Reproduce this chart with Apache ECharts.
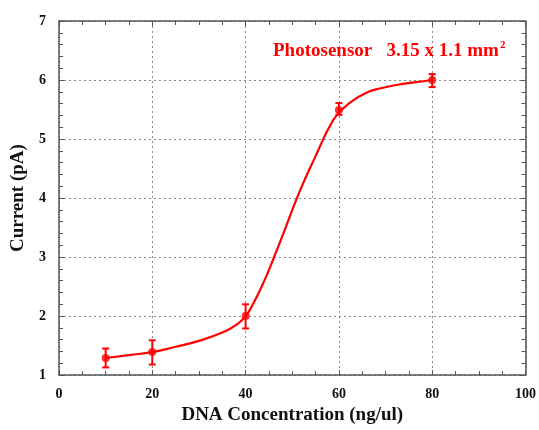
<!DOCTYPE html>
<html>
<head>
<meta charset="utf-8">
<script src="https://cdn.jsdelivr.net/npm/echarts@6/dist/echarts.min.js"></script>
<style>html,body{margin:0;padding:0;background:#fff}#c{width:539px;height:430px}</style>
</head>
<body>
<div id="c"></div>
<script>
// Measured points
var concentration = [10, 20, 40, 60, 80];
var current = [1.29, 1.39, 2.0, 5.49, 6.0];
var errLow = [1.13, 1.18, 1.79, 5.41, 5.88];
var errHigh = [1.45, 1.59, 2.2, 5.61, 6.1];
// Fitted curve
var curveX = [10, 15, 20, 25, 30, 35, 38, 40, 41.7, 43.5, 45.1, 46, 47.9, 49.1, 51, 53, 55, 56.6, 57.8, 59.6, 62.6, 66, 69, 72.6, 76.1, 80];
var curveY = [1.29, 1.34, 1.39, 1.48, 1.58, 1.72, 1.85, 2.0, 2.22, 2.51, 2.80, 2.98, 3.36, 3.61, 4.0, 4.37, 4.71, 4.99, 5.18, 5.41, 5.63, 5.79, 5.86, 5.92, 5.96, 6.0];
var xTicks = [0, 20, 40, 60, 80, 100];
var yTicks = [1, 2, 3, 4, 5, 6, 7];

var RED = '#ff0000';
var FONT = '"Liberation Serif", "Times New Roman", serif';
var AX = '#555';

var pts = concentration.map(function (x, i) { return [x, current[i]]; });
var errs = concentration.map(function (x, i) { return [x, errLow[i], errHigh[i]]; });
var curve = curveX.map(function (x, i) { return [x, curveY[i]]; });

var chart = echarts.init(document.getElementById('c'));
var baseAxis = {
  axisLine: { show: true, onZero: false, lineStyle: { color: AX, width: 1.5 } },
  axisTick: { show: true, inside: true, length: 5, lineStyle: { color: AX, width: 1 } },
  minorTick: { show: true, length: 4, lineStyle: { color: AX, width: 1 } }
};
chart.setOption({
  animation: false,
  backgroundColor: '#fff',
  title: {
    text: 'Photosensor   3.15 x 1.1 mm{sup|2}',
    left: 268, top: 35,
    textStyle: {
      color: RED, fontFamily: FONT, fontWeight: 'bold', fontSize: 19,
      rich: { sup: { color: RED, fontFamily: FONT, fontWeight: 'bold', fontSize: 11, verticalAlign: 'top', padding: [0, 0, 12, 1] } }
    }
  },
  grid: { left: 59, right: 10, top: 21, bottom: 48 },
  xAxis: [
    Object.assign({}, baseAxis, {
      type: 'value', min: 0, max: 100, interval: 20,
      minorTick: Object.assign({}, baseAxis.minorTick, { splitNumber: 4 }),
      name: 'DNA Concentration (ng/ul)', nameLocation: 'middle', nameGap: 29,
      nameTextStyle: { color: '#111', fontFamily: FONT, fontWeight: 'bold', fontSize: 19 },
      axisLabel: { color: '#111', fontFamily: FONT, fontWeight: 'bold', fontSize: 14, margin: 12,
        formatter: function (v) { return xTicks.indexOf(v) >= 0 ? String(v) : ''; } },
      splitLine: { show: true, lineStyle: { color: '#888', type: [2, 3], width: 1 } }
    }),
    Object.assign({}, baseAxis, {
      type: 'value', position: 'top', min: 0, max: 100, interval: 20,
      minorTick: Object.assign({}, baseAxis.minorTick, { splitNumber: 4 }),
      axisLabel: { show: false }, splitLine: { show: false }
    })
  ],
  yAxis: [
    Object.assign({}, baseAxis, {
      type: 'value', min: 1, max: 7, interval: 1,
      minorTick: Object.assign({}, baseAxis.minorTick, { splitNumber: 5 }),
      name: 'Current (pA)', nameLocation: 'middle', nameGap: 31,
      nameTextStyle: { color: '#111', fontFamily: FONT, fontWeight: 'bold', fontSize: 19 },
      axisLabel: { color: '#111', fontFamily: FONT, fontWeight: 'bold', fontSize: 14, margin: 13,
        formatter: function (v) { return yTicks.indexOf(v) >= 0 ? String(v) : ''; } },
      splitLine: { show: true, lineStyle: { color: '#888', type: [2, 3], width: 1 } }
    }),
    Object.assign({}, baseAxis, {
      type: 'value', position: 'right', min: 1, max: 7, interval: 1,
      minorTick: Object.assign({}, baseAxis.minorTick, { splitNumber: 5 }),
      axisLabel: { show: false }, splitLine: { show: false }
    })
  ],
  series: [
    {
      type: 'line', data: curve, smooth: 0.5, showSymbol: false,
      lineStyle: { color: RED, width: 2.2 }, z: 3
    },
    {
      type: 'custom', data: errs, z: 4,
      renderItem: function (params, api) {
        var x = api.value(0);
        var lo = api.coord([x, api.value(1)]);
        var hi = api.coord([x, api.value(2)]);
        var w = 3.5;
        var st = { stroke: RED, lineWidth: 2 };
        return { type: 'group', children: [
          { type: 'line', shape: { x1: lo[0], y1: lo[1], x2: hi[0], y2: hi[1] }, style: st },
          { type: 'line', shape: { x1: lo[0] - w, y1: lo[1], x2: lo[0] + w, y2: lo[1] }, style: st },
          { type: 'line', shape: { x1: hi[0] - w, y1: hi[1], x2: hi[0] + w, y2: hi[1] }, style: st }
        ] };
      }
    },
    {
      type: 'scatter', data: pts, symbol: 'circle', symbolSize: 8, z: 5,
      itemStyle: { color: RED }
    }
  ]
});
</script>
</body>
</html>
